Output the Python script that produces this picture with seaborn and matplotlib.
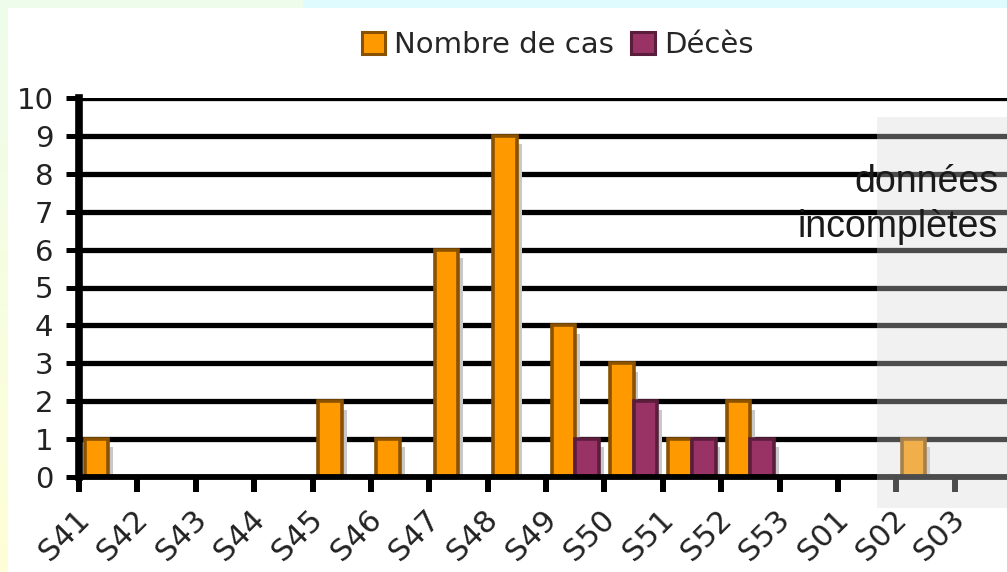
import numpy as np
import pandas as pd
import matplotlib
matplotlib.use("Agg")
import matplotlib.pyplot as plt
import seaborn as sns
from matplotlib.patches import Rectangle, Patch
from matplotlib import transforms, patheffects
from matplotlib.colors import LinearSegmentedColormap

# ---- data ----
weeks = ["S41", "S42", "S43", "S44", "S45", "S46", "S47", "S48",
         "S49", "S50", "S51", "S52", "S53", "S01", "S02", "S03"]
cases = [1, 0, 0, 0, 2, 1, 6, 9, 4, 3, 1, 2, 0, 0, 1, 0]
deaths = [0, 0, 0, 0, 0, 0, 0, 0, 1, 2, 1, 1, 0, 0, 0, 0]
series_names = ["Nombre de cas", "Décès"]
yticks = list(range(0, 11))
note_lines = ["données", "incomplètes"]

# ---- style ----
series_colors = ["#FF9900", "#993366"]
edge_colors = ["#8A5200", "#5A1D3C"]

sns.set_theme(style="white")
plt.rcParams["font.family"] = ["DejaVu Sans"]

W, H = 1007, 572
fig = plt.figure(figsize=(W / 100, H / 100), dpi=100)
fig.patch.set_facecolor("white")

df = pd.DataFrame({
    "Semaine": weeks * 2,
    "Valeur": cases + deaths,
    "Série": [series_names[0]] * len(weeks) + [series_names[1]] * len(weeks),
})

ax = fig.add_axes([79 / W, 95 / H, 934 / W, 379 / H])
ax.set_facecolor("white")
sns.barplot(data=df, x="Semaine", y="Valeur", hue="Série", order=weeks,
            hue_order=series_names, palette=series_colors, saturation=1,
            width=0.81, ax=ax, legend=False, errorbar=None)

shadow = [patheffects.SimplePatchShadow(offset=(3.5, -6), shadow_rgbFace="#c8c8c8", alpha=1.0),
          patheffects.Normal()]
for cont, ec in zip(ax.containers, edge_colors):
    for p in cont.patches:
        if p.get_height() == 0:
            p.set_visible(False)
            continue
        p.set_edgecolor(ec)
        p.set_linewidth(2.6)
        p.set_path_effects(shadow)

ax.set_xlim(-0.5, len(weeks) - 0.5)
ax.set_ylim(0, 10)
ax.set_yticks(yticks)
ax.set_xlabel("")
ax.set_ylabel("")
ax.set_axisbelow(True)
ax.yaxis.grid(True, color="black", linewidth=3.8)
ax.xaxis.grid(False)

for s in ["top", "right"]:
    ax.spines[s].set_visible(False)
ax.spines["left"].set_color("black")
ax.spines["left"].set_linewidth(5.5)
ax.spines["bottom"].set_color("black")
ax.spines["bottom"].set_linewidth(4.2)
ax.spines["bottom"].set_zorder(3)

ax.set_xticks(np.arange(-0.5, len(weeks), 1.0), minor=True)
ax.tick_params(axis="x", which="minor", length=11, width=4.3, color="black",
               direction="out", bottom=True)
ax.tick_params(axis="x", which="major", length=0, pad=20, labelsize=22,
               labelcolor="#222222")
ax.tick_params(axis="y", which="major", length=9.4, width=3.6, color="black",
               direction="out", left=True, pad=9, labelsize=21, labelcolor="#222222")

offset = transforms.ScaledTranslation(-0.13, 0, fig.dpi_scale_trans)
for lab in ax.get_xticklabels():
    lab.set_rotation(45)
    lab.set_ha("right")
    lab.set_transform(lab.get_transform() + offset)

# incomplete-data overlay
fig.add_artist(Rectangle((877 / W, (H - 508) / H), (W - 877) / W + 0.02, (508 - 117) / H,
                         transform=fig.transFigure, facecolor=(218 / 255,) * 3,
                         alpha=0.353, edgecolor="none", zorder=5))
fig.text(998 / W, 1 - 192 / H, note_lines[0], ha="right", va="baseline",
         fontsize=27, family="Liberation Sans", color="#1a1a1a", zorder=6)
fig.text(998 / W, 1 - 237 / H, note_lines[1], ha="right", va="baseline",
         fontsize=27, family="Liberation Sans", color="#1a1a1a", zorder=6)

# legend
handles = [Patch(facecolor=c, edgecolor=e, linewidth=2.2, label=n)
           for c, e, n in zip(series_colors, edge_colors, series_names)]
fig.legend(handles=handles, loc="center", bbox_to_anchor=(557.5 / W, 1 - 45 / H),
           ncol=2, frameon=False, fontsize=21, handlelength=0.8, handleheight=0.8,
           handletextpad=0.31, columnspacing=0.6, borderpad=0)

# page border strips
fig.add_artist(Rectangle((0, 1 - 8 / H), 303 / W, 8 / H, transform=fig.transFigure,
                         facecolor="#EEFCEB", edgecolor="none", zorder=10))
fig.add_artist(Rectangle((303 / W, 1 - 8 / H), 1 - 303 / W, 8 / H, transform=fig.transFigure,
                         facecolor="#E0FBFD", edgecolor="none", zorder=10))
strip = fig.add_axes([0, 0, 8 / W, 1 - 8 / H], zorder=10)
cmap = LinearSegmentedColormap.from_list("strip", ["#FFFFD6", "#EEFCEB"])
strip.imshow(np.linspace(0, 1, 256).reshape(-1, 1), aspect="auto", cmap=cmap,
             origin="lower", extent=[0, 1, 0, 1])
strip.axis("off")

fig.savefig("out.png", dpi=100)
